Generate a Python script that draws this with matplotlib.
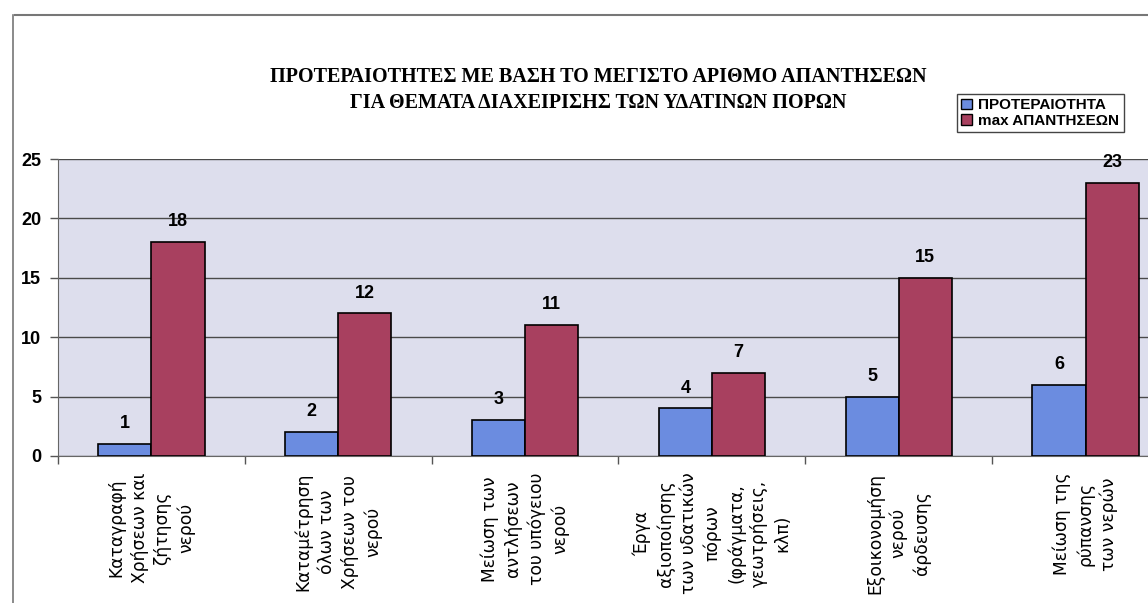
import numpy as np
import matplotlib
matplotlib.use('Agg')
import matplotlib.pyplot as plt
from matplotlib.patches import Patch
from matplotlib.lines import Line2D

categories = [
    "Καταγραφή\nΧρήσεων και\nζήτησης\nνερού",
    "Καταμέτρηση\nόλων των\nΧρήσεων του\nνερού",
    "Μείωση των\nαντλήσεων\nτου υπόγειου\nνερού",
    "Έργα\nαξιοποίησης\nτων υδατικών\nπόρων\n(φράγματα,\nγεωτρήσεις,\nκλπ)",
    "Εξοικονομήση\nνερού\nάρδευσης",
    "Μείωση της\nρύπανσης\nτων νερών",
]
priority = [1, 2, 3, 4, 5, 6]
max_answers = [18, 12, 11, 7, 15, 23]
series_names = ["ΠΡΟΤΕΡΑΙΟΤΗΤΑ", "max ΑΠΑΝΤΗΣΕΩΝ"]
title = "ΠΡΟΤΕΡΑΙΟΤΗΤΕΣ ΜΕ ΒΑΣΗ ΤΟ ΜΕΓΙΣΤΟ ΑΡΙΘΜΟ ΑΠΑΝΤΗΣΕΩΝ\nΓΙΑ ΘΕΜΑΤΑ ΔΙΑΧΕΙΡΙΣΗΣ ΤΩΝ ΥΔΑΤΙΝΩΝ ΠΟΡΩΝ"

blue = "#6B8CE0"
red = "#A8405F"

W, H = 1148, 603
fig = plt.figure(figsize=(W / 100, H / 100), dpi=100)
fig.patch.set_facecolor("white")

# plot area runs off the right edge, like the cropped scan
ax = fig.add_axes([58 / W, (H - 456) / H, 1121 / W, 297 / H])
ax.set_facecolor("#DDDEED")

x = np.arange(len(categories))
w = 0.285
ax.bar(x - w / 2, priority, w, color=blue, edgecolor="black", linewidth=1.2, zorder=3)
ax.bar(x + w / 2, max_answers, w, color=red, edgecolor="black", linewidth=1.2, zorder=3)

for xi, v in zip(x - w / 2, priority):
    ax.text(xi, v + 1.0, str(v), ha="center", va="bottom", fontsize=13,
            fontweight="bold", family="Liberation Sans")
for xi, v in zip(x + w / 2, max_answers):
    ax.text(xi, v + 1.0, str(v), ha="center", va="bottom", fontsize=13,
            fontweight="bold", family="Liberation Sans")

ax.set_xlim(-0.5, len(categories) - 0.5)
ax.set_ylim(0, 25)
ax.set_yticks(np.arange(0, 26, 5))
ax.yaxis.grid(True, color="#4a4a4a", linewidth=1.0, zorder=1)
ax.set_axisbelow(True)
ax.tick_params(axis="y", length=6, width=1, color="#555555", pad=6)
for lab in ax.get_yticklabels():
    lab.set_fontsize(13)
    lab.set_fontweight("bold")
    lab.set_family("Liberation Sans")

ax.set_xticks(x)
ax.set_xticklabels(categories, rotation=90, ha="center", va="top",
                   multialignment="center", fontsize=12.3, linespacing=1.35)
ax.set_xticks(np.arange(-0.5, len(categories), 1), minor=True)
ax.tick_params(axis="x", which="major", length=0, pad=12)
ax.tick_params(axis="x", which="minor", length=6, width=1, color="#555555")

for s in ["top", "right"]:
    ax.spines[s].set_visible(False)
ax.spines["left"].set_color("#666666")
ax.spines["bottom"].set_color("#666666")

fig.text(598 / W, 1 - 90 / H, title, ha="center", va="center", fontsize=14.5,
         fontweight="bold", family="Liberation Serif", linespacing=1.45)

handles = [Patch(facecolor=blue, edgecolor="black"),
           Patch(facecolor=red, edgecolor="black")]
fig.legend(handles, series_names, loc="upper left",
           bbox_to_anchor=(949 / W, 1 - 86 / H), fancybox=False,
           edgecolor="#444444", framealpha=1, handlelength=0.7,
           handleheight=0.7, handletextpad=0.4, borderpad=0.3,
           labelspacing=0.1, prop={"family": "Liberation Sans", "weight": "bold", "size": 11})

# outer chart frame of the scan
fig.add_artist(Line2D([15 / W, 1], [1 - 15 / H, 1 - 15 / H], color="#777777", linewidth=1.5))
fig.add_artist(Line2D([13 / W, 13 / W], [0, 1 - 15 / H], color="#777777", linewidth=1.2))

plt.savefig("out.png", dpi=100)
